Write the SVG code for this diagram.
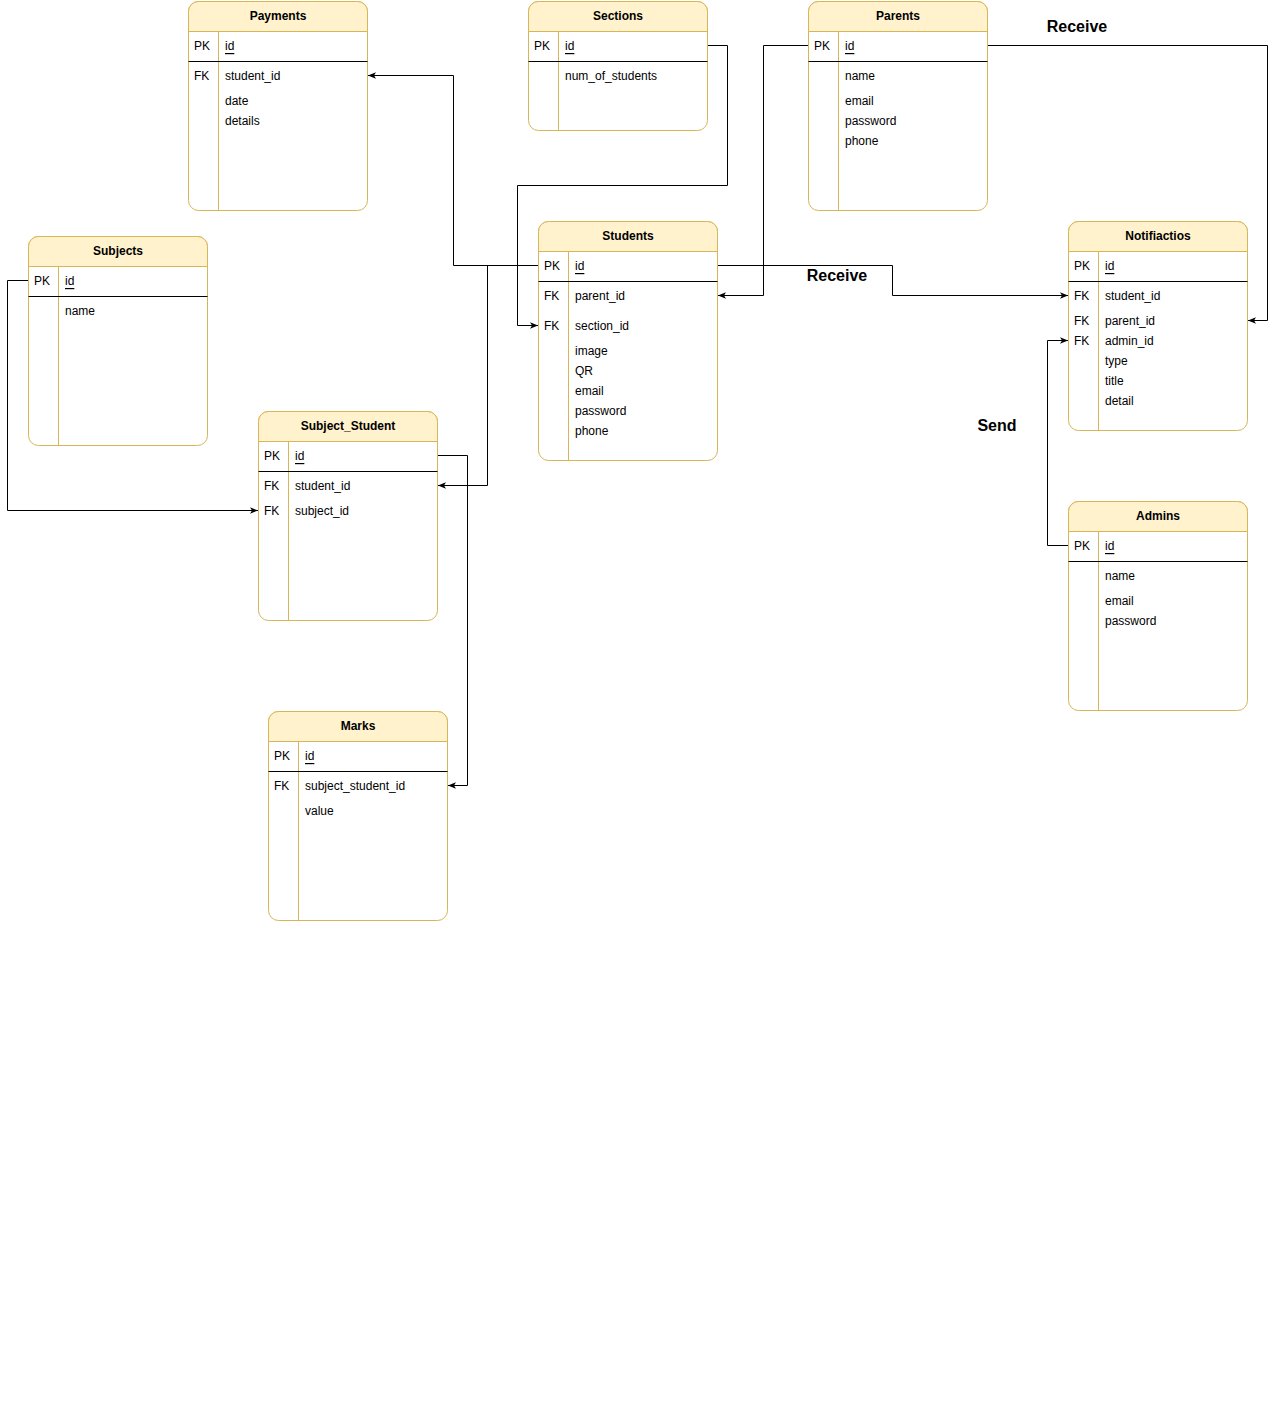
<svg xmlns="http://www.w3.org/2000/svg" width="1276" height="1401" viewBox="0 0 1276 1401">
<defs>
<style>
.box{fill:#ffffff;stroke:#d6b656;stroke-width:1}
.hdr{fill:#fff2cc;stroke:#d6b656;stroke-width:1}
.div{stroke:#d6b656;stroke-width:1;fill:none}
.pkl{stroke:#000;stroke-width:1;fill:none}
.t{font-family:"Liberation Sans",Arial,sans-serif;font-size:12px;fill:#000;dominant-baseline:central}
.h{font-family:"Liberation Sans",Arial,sans-serif;font-size:12px;font-weight:bold;fill:#000;text-anchor:middle;dominant-baseline:central}
.u{text-decoration:underline}
.lbl{font-family:"Liberation Sans",Arial,sans-serif;font-size:16px;font-weight:bold;fill:#000;text-anchor:middle;dominant-baseline:central}
.c{fill:none;stroke:#000;stroke-width:1}
</style>
<marker id="arr" viewBox="0 0 10 10" refX="10" refY="5" markerWidth="8" markerHeight="8" markerUnits="userSpaceOnUse" orient="auto">
<path d="M0,1 L10,5 L0,9 L2.5,5 Z" fill="#000"/>
</marker>
</defs>

<g id="connectors">
<path class="c" d="M538,265.5 H453.5 V75.5 H368" marker-end="url(#arr)"/>
<path class="c" d="M708,45.5 H727.5 V185.5 H517.5 V325.5 H538" marker-end="url(#arr)"/>
<path class="c" d="M808,45.5 H763.5 V295.5 H718" marker-end="url(#arr)"/>
<path class="c" d="M988,45.5 H1267.5 V320.5 H1248" marker-end="url(#arr)"/>
<path class="c" d="M718,265.5 H892.5 V295.5 H1068" marker-end="url(#arr)"/>
<path class="c" d="M1068,545.5 H1047.5 V340.5 H1068" marker-end="url(#arr)"/>
<path class="c" d="M28,280.5 H7.5 V510.5 H258" marker-end="url(#arr)"/>
<path class="c" d="M538,265.5 H487.5 V485.5 H438" marker-end="url(#arr)"/>
<path class="c" d="M438,455.5 H467.5 V785.5 H448" marker-end="url(#arr)"/>
</g>

<g id="labels">
<text class="lbl" x="1077" y="26">Receive</text>
<text class="lbl" x="837" y="275">Receive</text>
<text class="lbl" x="997" y="425">Send</text>
</g>

<g id="payments">
<rect class="box" x="188.5" y="1.5" width="179" height="209" rx="10"/>
<path class="hdr" d="M188.5,31.5 V11.5 A10,10 0 0 1 198.5,1.5 H357.5 A10,10 0 0 1 367.5,11.5 V31.5 Z"/>
<line class="div" x1="218.5" y1="31.5" x2="218.5" y2="210.5"/>
<line class="pkl" x1="188.5" y1="61.5" x2="367.5" y2="61.5"/>
<text class="h" x="278" y="16">Payments</text>
<text class="t" x="194" y="46">PK</text><text class="t u" x="225" y="46">id</text>
<text class="t" x="194" y="76">FK</text><text class="t" x="225" y="76">student_id</text>
<text class="t" x="225" y="101">date</text>
<text class="t" x="225" y="121">details</text>
</g>

<g id="sections">
<rect class="box" x="528.5" y="1.5" width="179" height="129" rx="10"/>
<path class="hdr" d="M528.5,31.5 V11.5 A10,10 0 0 1 538.5,1.5 H697.5 A10,10 0 0 1 707.5,11.5 V31.5 Z"/>
<line class="div" x1="558.5" y1="31.5" x2="558.5" y2="130.5"/>
<line class="pkl" x1="528.5" y1="61.5" x2="707.5" y2="61.5"/>
<text class="h" x="618" y="16">Sections</text>
<text class="t" x="534" y="46">PK</text><text class="t u" x="565" y="46">id</text>
<text class="t" x="565" y="76">num_of_students</text>
</g>

<g id="parents">
<rect class="box" x="808.5" y="1.5" width="179" height="209" rx="10"/>
<path class="hdr" d="M808.5,31.5 V11.5 A10,10 0 0 1 818.5,1.5 H977.5 A10,10 0 0 1 987.5,11.5 V31.5 Z"/>
<line class="div" x1="838.5" y1="31.5" x2="838.5" y2="210.5"/>
<line class="pkl" x1="808.5" y1="61.5" x2="987.5" y2="61.5"/>
<text class="h" x="898" y="16">Parents</text>
<text class="t" x="814" y="46">PK</text><text class="t u" x="845" y="46">id</text>
<text class="t" x="845" y="76">name</text>
<text class="t" x="845" y="101">email</text>
<text class="t" x="845" y="121">password</text>
<text class="t" x="845" y="141">phone</text>
</g>

<g id="subjects">
<rect class="box" x="28.5" y="236.5" width="179" height="209" rx="10"/>
<path class="hdr" d="M28.5,266.5 V246.5 A10,10 0 0 1 38.5,236.5 H197.5 A10,10 0 0 1 207.5,246.5 V266.5 Z"/>
<line class="div" x1="58.5" y1="266.5" x2="58.5" y2="445.5"/>
<line class="pkl" x1="28.5" y1="296.5" x2="207.5" y2="296.5"/>
<text class="h" x="118" y="251">Subjects</text>
<text class="t" x="34" y="281">PK</text><text class="t u" x="65" y="281">id</text>
<text class="t" x="65" y="311">name</text>
</g>

<g id="students">
<rect class="box" x="538.5" y="221.5" width="179" height="239" rx="10"/>
<path class="hdr" d="M538.5,251.5 V231.5 A10,10 0 0 1 548.5,221.5 H707.5 A10,10 0 0 1 717.5,231.5 V251.5 Z"/>
<line class="div" x1="568.5" y1="251.5" x2="568.5" y2="460.5"/>
<line class="pkl" x1="538.5" y1="281.5" x2="717.5" y2="281.5"/>
<text class="h" x="628" y="236">Students</text>
<text class="t" x="544" y="266">PK</text><text class="t u" x="575" y="266">id</text>
<text class="t" x="544" y="296">FK</text><text class="t" x="575" y="296">parent_id</text>
<text class="t" x="544" y="326">FK</text><text class="t" x="575" y="326">section_id</text>
<text class="t" x="575" y="351">image</text>
<text class="t" x="575" y="371">QR</text>
<text class="t" x="575" y="391">email</text>
<text class="t" x="575" y="411">password</text>
<text class="t" x="575" y="431">phone</text>
</g>

<g id="notifiactios">
<rect class="box" x="1068.5" y="221.5" width="179" height="209" rx="10"/>
<path class="hdr" d="M1068.5,251.5 V231.5 A10,10 0 0 1 1078.5,221.5 H1237.5 A10,10 0 0 1 1247.5,231.5 V251.5 Z"/>
<line class="div" x1="1098.5" y1="251.5" x2="1098.5" y2="430.5"/>
<line class="pkl" x1="1068.5" y1="281.5" x2="1247.5" y2="281.5"/>
<text class="h" x="1158" y="236">Notifiactios</text>
<text class="t" x="1074" y="266">PK</text><text class="t u" x="1105" y="266">id</text>
<text class="t" x="1074" y="296">FK</text><text class="t" x="1105" y="296">student_id</text>
<text class="t" x="1074" y="321">FK</text><text class="t" x="1105" y="321">parent_id</text>
<text class="t" x="1074" y="341">FK</text><text class="t" x="1105" y="341">admin_id</text>
<text class="t" x="1105" y="361">type</text>
<text class="t" x="1105" y="381">title</text>
<text class="t" x="1105" y="401">detail</text>
</g>

<g id="subject_student">
<rect class="box" x="258.5" y="411.5" width="179" height="209" rx="10"/>
<path class="hdr" d="M258.5,441.5 V421.5 A10,10 0 0 1 268.5,411.5 H427.5 A10,10 0 0 1 437.5,421.5 V441.5 Z"/>
<line class="div" x1="288.5" y1="441.5" x2="288.5" y2="620.5"/>
<line class="pkl" x1="258.5" y1="471.5" x2="437.5" y2="471.5"/>
<text class="h" x="348" y="426">Subject_Student</text>
<text class="t" x="264" y="456">PK</text><text class="t u" x="295" y="456">id</text>
<text class="t" x="264" y="486">FK</text><text class="t" x="295" y="486">student_id</text>
<text class="t" x="264" y="511">FK</text><text class="t" x="295" y="511">subject_id</text>
</g>

<g id="admins">
<rect class="box" x="1068.5" y="501.5" width="179" height="209" rx="10"/>
<path class="hdr" d="M1068.5,531.5 V511.5 A10,10 0 0 1 1078.5,501.5 H1237.5 A10,10 0 0 1 1247.5,511.5 V531.5 Z"/>
<line class="div" x1="1098.5" y1="531.5" x2="1098.5" y2="710.5"/>
<line class="pkl" x1="1068.5" y1="561.5" x2="1247.5" y2="561.5"/>
<text class="h" x="1158" y="516">Admins</text>
<text class="t" x="1074" y="546">PK</text><text class="t u" x="1105" y="546">id</text>
<text class="t" x="1105" y="576">name</text>
<text class="t" x="1105" y="601">email</text>
<text class="t" x="1105" y="621">password</text>
</g>

<g id="marks">
<rect class="box" x="268.5" y="711.5" width="179" height="209" rx="10"/>
<path class="hdr" d="M268.5,741.5 V721.5 A10,10 0 0 1 278.5,711.5 H437.5 A10,10 0 0 1 447.5,721.5 V741.5 Z"/>
<line class="div" x1="298.5" y1="741.5" x2="298.5" y2="920.5"/>
<line class="pkl" x1="268.5" y1="771.5" x2="447.5" y2="771.5"/>
<text class="h" x="358" y="726">Marks</text>
<text class="t" x="274" y="756">PK</text><text class="t u" x="305" y="756">id</text>
<text class="t" x="274" y="786">FK</text><text class="t" x="305" y="786">subject_student_id</text>
<text class="t" x="305" y="811">value</text>
</g>
</svg>
